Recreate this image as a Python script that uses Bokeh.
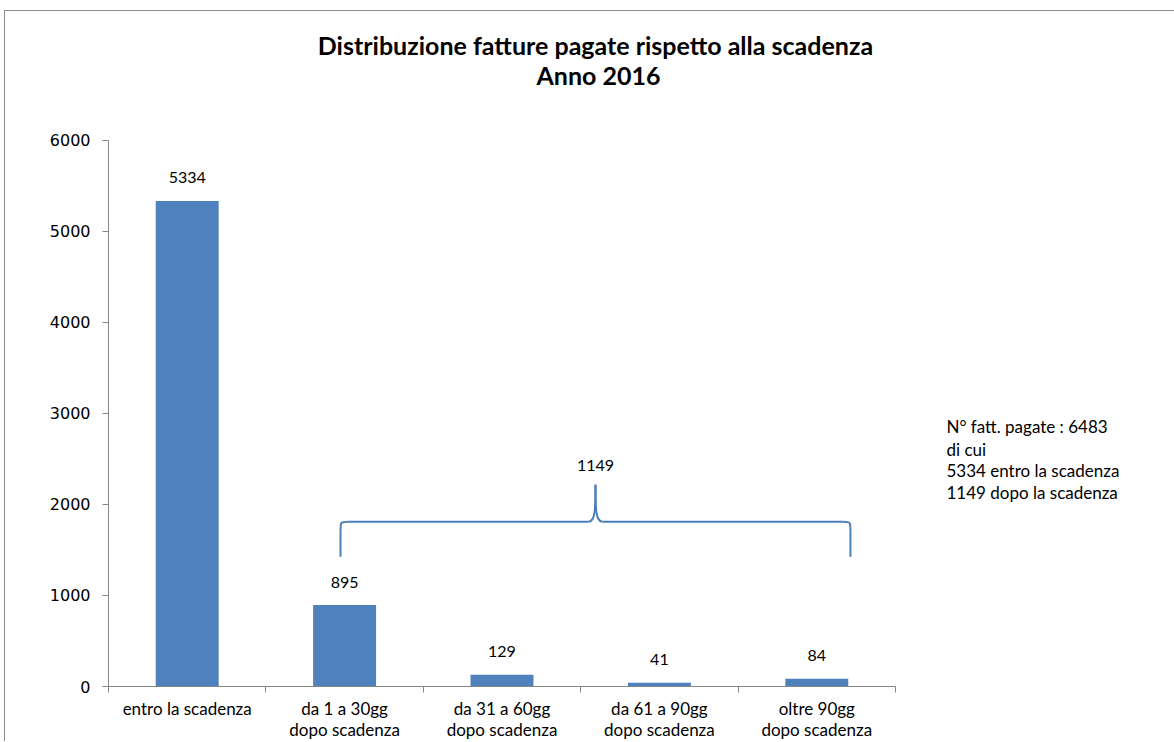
from bokeh.plotting import figure
from bokeh.models import ColumnDataSource, LabelSet, Label, FixedTicker, Range1d
from bokeh.core.properties import value
from bokeh.embed import file_html
from bokeh.resources import INLINE

categories = ["entro la scadenza", "da 1 a 30gg\ndopo scadenza", "da 31 a 60gg\ndopo scadenza",
              "da 61 a 90gg\ndopo scadenza", "oltre 90gg\ndopo scadenza"]
values = [5334, 895, 129, 41, 84]
y_ticks = [0, 1000, 2000, 3000, 4000, 5000, 6000]
title_lines = ["Distribuzione fatture pagate  rispetto alla scadenza", "Anno 2016"]
bracket_label = "1149"
note_lines = ["N° fatt. pagate : 6483", "di cui", "5334 entro la scadenza", "1149 dopo la scadenza"]

centers = [i + 0.5 for i in range(len(categories))]
src = ColumnDataSource(dict(x=centers, top=values, lab=[str(v) for v in values]))

# frame extends over the whole chart area so that annotations are not clipped;
# axes are bounded to the category / value extent
W, H = 1170, 731
p = figure(width=W, height=H, output_backend="svg", toolbar_location=None,
           x_range=Range1d(0, 6.779), y_range=Range1d(0, 7415), title=None,
           min_border_left=103, min_border_right=0, min_border_top=0, min_border_bottom=55)
p.outline_line_color = None
p.xgrid.grid_line_color = None
p.ygrid.grid_line_color = None
p.styles = {"margin-left": "4px", "margin-top": "10px",
            "border-top": "1px solid #8c8c8c", "border-left": "1px solid #8c8c8c"}

p.vbar(x="x", top="top", width=0.4, bottom=0, source=src, fill_color="#4F81BD", line_color=None)

axis_col = "#868686"
p.xaxis.bounds = (0, 5)
p.xaxis.ticker = FixedTicker(ticks=centers, minor_ticks=[0, 1, 2, 3, 4, 5])
p.xaxis.major_label_overrides = {c: lab for c, lab in zip(centers, categories)}
p.xaxis.major_tick_line_color = None
p.xaxis.major_tick_out = 0
p.xaxis.major_tick_in = 0
p.xaxis.minor_tick_line_color = axis_col
p.xaxis.minor_tick_out = 6
p.xaxis.minor_tick_in = 0
p.xaxis.axis_line_color = axis_col
p.xaxis.major_label_text_font = "Lato"
p.xaxis.major_label_text_font_size = "17px"
p.xaxis.major_label_text_color = "#000000"
p.xaxis.major_label_text_line_height = 1.02
p.xaxis.major_label_standoff = 5

p.yaxis.bounds = (0, 6000)
p.yaxis.ticker = FixedTicker(ticks=y_ticks, minor_ticks=[])
p.yaxis.axis_line_color = axis_col
p.yaxis.major_tick_line_color = axis_col
p.yaxis.major_tick_out = 6
p.yaxis.major_tick_in = 0
p.yaxis.major_label_text_font = "DejaVu Sans"
p.yaxis.major_label_text_font_size = "16px"
p.yaxis.major_label_text_color = "#000000"
p.yaxis.major_label_standoff = 12

p.add_layout(LabelSet(x="x", y="top", text="lab", source=src, text_align="center",
                      text_baseline="middle", y_offset=23, text_font=value("Lato"),
                      text_font_size=value("16px"), text_color="#000000"))

# title lines
for t, ty in zip(title_lines, [7042, 6713]):
    p.add_layout(Label(x=3.113, y=ty, text=t, text_align="center", text_baseline="middle",
                       text_font="Lato", text_font_style="bold", text_font_size="25px",
                       text_color="#000000"))

# bracket
bc = "#4A7EBB"
xl, xr, xm = 1.474, 4.714, 3.094
yh, yb, ys = 1810, 1426, 2216
dx, dy = 0.05, 110
p.segment(x0=[xl, xr, xl + dx, xm + 0.045], y0=[yb, yb, yh, yh],
          x1=[xl, xr, xm - 0.045, xr - dx], y1=[yh - dy, yh - dy, yh, yh],
          line_color=bc, line_width=2)
p.bezier(x0=[xl, xr, xm - 0.045, xm + 0.045], y0=[yh - dy, yh - dy, yh, yh],
         x1=[xl + dx, xr - dx, xm, xm], y1=[yh, yh, ys, ys],
         cx0=[xl, xr, xm, xm], cy0=[yh, yh, yh, yh],
         cx1=[xl, xr, xm, xm], cy1=[yh, yh, yh + 150, yh + 150],
         line_color=bc, line_width=2)
p.add_layout(Label(x=xm, y=2424, text=bracket_label, text_align="center", text_baseline="middle",
                   text_font="Lato", text_font_size="16px", text_color="#000000"))

# note
for t, ty in zip(note_lines, [2852, 2600, 2370, 2129]):
    p.add_layout(Label(x=5.324, y=ty, text=t, text_align="left", text_baseline="middle",
                       text_font="Lato", text_font_size="17px", text_color="#000000"))

open("out.html", "w").write(file_html(p, INLINE))
